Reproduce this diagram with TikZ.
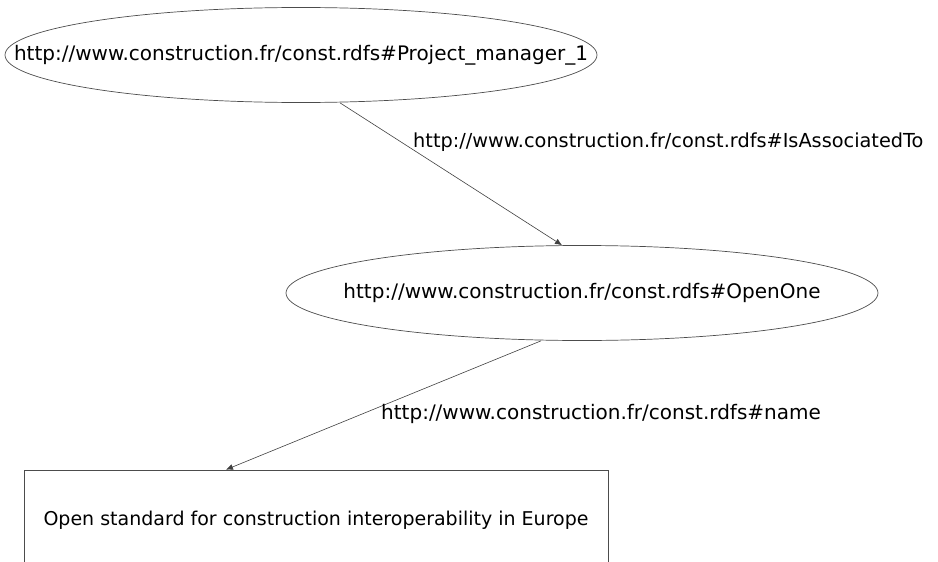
\documentclass[tikz,border=0pt]{standalone}
\usepackage{fontspec}
\setmainfont{DejaVu Sans}
\usetikzlibrary{shapes.geometric,arrows.meta}

\tikzset{
  res/.style={draw=black!70,line width=0.7pt,ellipse,minimum width=592pt,minimum height=95pt,inner sep=0pt},
  lit/.style={draw=black!70,line width=0.7pt,rectangle,minimum width=584pt,minimum height=100pt,inner sep=0pt},
  prop/.style={draw=black!75,line width=0.6pt,-{Latex[length=7pt,width=6pt]}},
  plabel/.style={anchor=west,inner sep=0pt}
}

\begin{document}
\begin{tikzpicture}[x=1pt,y=-1pt,font=\fontsize{20}{24}\selectfont]
  \useasboundingbox (0,0) rectangle (938,562);
  \node[res] (pm) at (301,55) {};
  \node (pmtext) at (pm) {http://www.construction.fr/const.rdfs\#Project\_manager\_1};
  \node[res] (open) at (582,293) {};
  \node (opentext) at (open) {http://www.construction.fr/const.rdfs\#OpenOne};
  \node[lit,font=\fontsize{19}{23}\selectfont] (name) at (316,520) {Open standard for construction interoperability in Europe};
  \draw[prop] ([xshift=39pt]pm.south) -- ([xshift=-20pt]open.north);
  \draw[prop] ([xshift=-41pt]open.south) -- ([xshift=-90pt]name.north);
  \node[plabel,font=\fontsize{19.3}{23}\selectfont] (assoc) at (413,142) {http://www.construction.fr/const.rdfs\#IsAssociatedTo};
  \node[plabel] (nm) at (381,414) {http://www.construction.fr/const.rdfs\#name};
\end{tikzpicture}
\end{document}
